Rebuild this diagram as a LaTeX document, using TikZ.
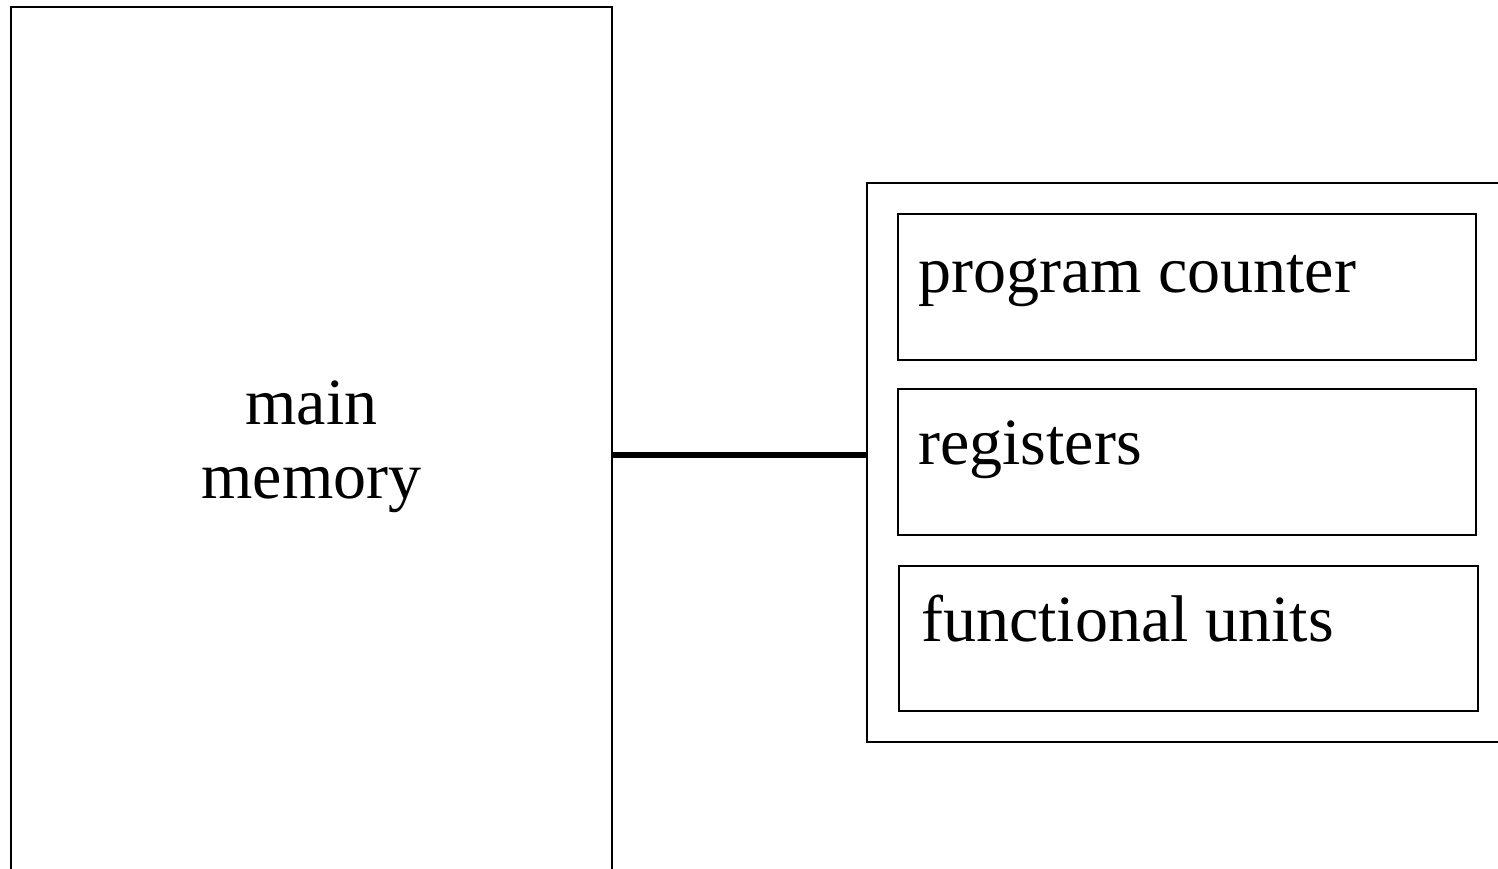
\documentclass[tikz,border=0pt]{standalone}
\usepackage{fontspec}
\setmainfont{Liberation Serif}
\usetikzlibrary{calc}
\tikzset{
  box/.style={draw=black, line width=2.4pt, outer sep=0pt, inner sep=0pt, anchor=north west},
  link/.style={draw=black, line width=5.5pt},
  txt/.style={inner sep=0pt, font=\fontsize{66}{74}\selectfont},
}
\begin{document}
\begin{tikzpicture}[x=1pt, y=-1pt]
  \useasboundingbox (0,0) rectangle (1498,869);
  \clip (0,0) rectangle (1498,869);
  % memory block (runs past the lower edge)
  \node[box, minimum width=601pt, minimum height=896pt] (mem) at (11,7) {};
  \node[txt, align=center, anchor=base] (memtext) at (mem.center |- 0,498) {main\\memory};
  % processor block (runs past the right edge)
  \node[box, minimum width=660pt, minimum height=559pt] (cpu) at (867,183) {};
  % processor parts
  \node[box, minimum width=578pt, minimum height=146pt] (pc) at (898,214) {};
  \node[box, minimum width=578pt, minimum height=146pt] (reg) at (898,389) {};
  \node[box, minimum width=579pt, minimum height=145pt] (fu) at (899,566) {};
  \node[txt, anchor=base west] (pctext) at ($(pc.north west)+(20,78)$) {program counter};
  \node[txt, anchor=base west] (regtext) at ($(reg.north west)+(20,75)$) {registers};
  \node[txt, anchor=base west] (futext) at ($(fu.north west)+(22,75)$) {functional units};
  % bus between memory and processor
  \draw[link] (mem.east) -- (mem.east -| cpu.west);
\end{tikzpicture}
\end{document}
